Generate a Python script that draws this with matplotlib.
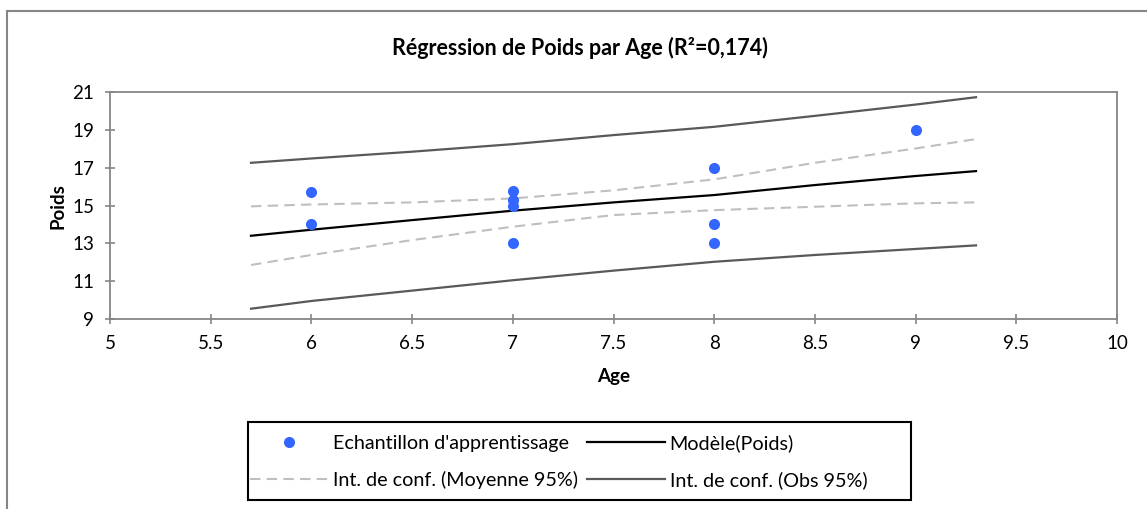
import matplotlib
matplotlib.use("Agg")
import matplotlib.pyplot as plt
from matplotlib.patches import Rectangle

plt.rcParams["font.family"] = ["Lato", "DejaVu Sans"]

# Training sample (Age, Poids)
age = [6, 6, 7, 7, 7, 7, 8, 8, 8, 9]
poids = [15.7, 14.0, 15.8, 15.3, 15.0, 13.0, 17.0, 14.0, 13.0, 19.0]

# Model and confidence bands
grid = [5.7, 6.0, 6.5, 7.0, 7.5, 8.0, 8.5, 9.0, 9.3]
model = [13.40, 13.72, 14.23, 14.73, 15.17, 15.56, 16.09, 16.57, 16.83]
mean_up = [14.96, 15.06, 15.17, 15.38, 15.81, 16.39, 17.27, 18.03, 18.53]
mean_lo = [11.85, 12.38, 13.17, 13.88, 14.50, 14.76, 14.94, 15.12, 15.17]
obs_up = [17.27, 17.50, 17.86, 18.26, 18.74, 19.18, 19.76, 20.36, 20.75]
obs_lo = [9.53, 9.94, 10.49, 11.04, 11.55, 12.02, 12.38, 12.70, 12.89]

x_ticks = [5, 5.5, 6, 6.5, 7, 7.5, 8, 8.5, 9, 9.5, 10]
x_labels = ["5", "5.5", "6", "6.5", "7", "7.5", "8", "8.5", "9", "9.5", "10"]
y_ticks = [9, 11, 13, 15, 17, 19, 21]

W, H = 1147, 509
fig = plt.figure(figsize=(W / 100, H / 100), dpi=100)

# outer chart frame (cut off at right and bottom)
fig.patches.append(Rectangle((7 / W, -0.05), 1.1, 1 - 10.5 / H + 0.05, transform=fig.transFigure,
                             fill=False, edgecolor="#868686", linewidth=1.5))

ax = fig.add_axes([110 / W, 1 - 318.7 / H, (1117 - 110) / W, 226.2 / H])

grey_axis = "#868686"
blue = "#3366FF"
fs = 13.5
dash = (0, (5, 3))

h_pts, = ax.plot(age, poids, "o", color=blue, markersize=8, markeredgewidth=0, zorder=5)
h_model, = ax.plot(grid, model, color="black", linewidth=1.6)
h_mean, = ax.plot(grid, mean_up, color="#BFBFBF", linewidth=1.5, linestyle=dash)
ax.plot(grid, mean_lo, color="#BFBFBF", linewidth=1.5, linestyle=dash)
h_obs, = ax.plot(grid, obs_up, color="#595959", linewidth=1.6)
ax.plot(grid, obs_lo, color="#595959", linewidth=1.6)

ax.set_xlim(5, 10)
ax.set_ylim(9, 21)
ax.set_xticks(x_ticks)
ax.set_xticklabels(x_labels)
ax.set_yticks(y_ticks)
ax.tick_params(direction="inout", length=7, width=1.2, color=grey_axis, labelsize=fs)
ax.tick_params(axis="y", pad=8)
ax.tick_params(axis="x", pad=8)
for sp in ax.spines.values():
    sp.set_color(grey_axis)
    sp.set_linewidth(1.3)

ax.set_xlabel("Age", fontsize=fs, fontweight="bold", labelpad=12)
ax.set_ylabel("Poids", fontsize=fs, fontweight="bold", labelpad=4)

fig.text(580 / W, 1 - 48 / H, "Régression de Poids par Age (R²=0,174)", ha="center", va="center",
         fontsize=15.5, fontweight="bold")

# legend box drawn separately so it keeps the reference's width
fig.patches.append(Rectangle((248 / W, 1 - 500 / H), (911 - 248) / W, 78 / H, transform=fig.transFigure,
                             fill=False, edgecolor="black", linewidth=1.5))
leg = fig.legend([h_pts, h_mean, h_model, h_obs],
                 ["Echantillon d'apprentissage", "Int. de conf. (Moyenne 95%)",
                  "Modèle(Poids)", "Int. de conf. (Obs 95%)"],
                 ncol=2, loc="upper left", bbox_to_anchor=(250 / W, 1 - 434 / H),
                 fontsize=14.2, frameon=False, handlelength=3.95,
                 handletextpad=0.25, columnspacing=0.45, labelspacing=0.98, borderpad=0,
                 borderaxespad=0)

fig.savefig("out.png", dpi=100)
